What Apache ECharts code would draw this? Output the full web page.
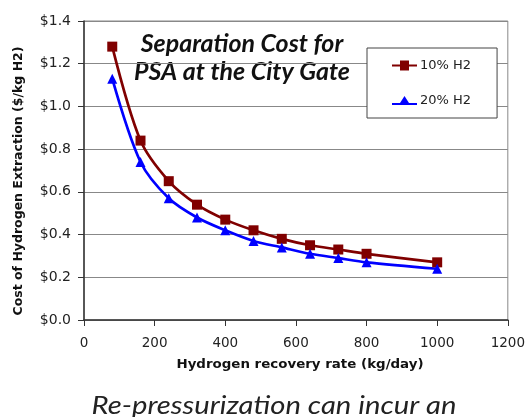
<!DOCTYPE html>
<html><head><meta charset="utf-8">
<script src="https://cdn.jsdelivr.net/npm/echarts@6/dist/echarts.min.js"></script>
<style>html,body{margin:0;padding:0;background:#fff}#c{width:528px;height:417px}</style>
</head><body><div id="c"></div>
<script>
const xValues = [80,160,240,320,400,480,560,640,720,800,1000];
const h2_10 = [1.28,0.84,0.65,0.54,0.47,0.42,0.38,0.35,0.33,0.31,0.27];
const h2_20 = [1.13,0.74,0.57,0.48,0.42,0.37,0.34,0.31,0.29,0.27,0.24];
const seriesNames = ['10% H2','20% H2'];
const titleLines = ['Separation Cost for','PSA at the City Gate'];
const xAxisTitle = 'Hydrogen recovery rate (kg/day)';
const yAxisTitle = 'Cost of Hydrogen Extraction ($/kg H2)';
const caption = 'Re-pressurization can incur an';

const chart = echarts.init(document.getElementById('c'));
const pair = (xs, ys) => xs.map((x,i)=>[x,ys[i]]);
const titleStyle = {font:'italic bold 24px Lato',fill:'#111',align:'center',verticalAlign:'middle',
  shadowColor:'rgba(230,150,30,0.6)',shadowBlur:2,shadowOffsetX:1,shadowOffsetY:1};
chart.setOption({
  animation:false,
  backgroundColor:'#fff',
  grid:{left:84,top:21,width:428,height:299,show:true,borderColor:'#888',borderWidth:1},
  xAxis:{type:'value',min:0,max:1200,interval:200,
    axisLine:{onZero:false,lineStyle:{color:'#333',width:1.5}},
    axisTick:{show:true,length:6,lineStyle:{color:'#333'}},
    axisLabel:{color:'#222',fontFamily:'DejaVu Sans',fontSize:13.5,margin:16,formatter:v=>String(v)},
    splitLine:{show:false}},
  yAxis:{type:'value',min:0,max:1.4,interval:0.2,
    axisLine:{show:true,lineStyle:{color:'#333',width:1.5}},
    axisTick:{show:true,length:6,lineStyle:{color:'#333'}},
    axisLabel:{color:'#222',fontFamily:'DejaVu Sans',fontSize:14,margin:13,
      formatter:v=>'$'+v.toFixed(1)},
    splitLine:{show:true,lineStyle:{color:'#888',width:1}}},
  legend:{show:true,orient:'vertical',left:367,top:48,
    padding:[10,26,10,25],itemGap:20,itemWidth:25,itemHeight:10,
    borderColor:'#444',borderWidth:1,backgroundColor:'#fff',
    textStyle:{fontFamily:'DejaVu Sans',fontSize:13,color:'#222',lineHeight:15,padding:[0,0,0,-2]},
    data:[{name:seriesNames[0],icon:'path://M0,4H8V0H17V4H25V6H17V10H8V6H0Z'},
          {name:seriesNames[1],icon:'path://M0,7H8L12.5,0L17,7H25V9H0Z'}]},
  series:[
    {name:seriesNames[0],type:'line',smooth:0.3,data:pair(xValues,h2_10),
     symbol:'rect',symbolSize:10,color:'#800000',lineStyle:{width:2.7,color:'#800000'},
     itemStyle:{color:'#800000'}},
    {name:seriesNames[1],type:'line',smooth:0.3,data:pair(xValues,h2_20),
     symbol:'triangle',symbolSize:10,color:'#0000ff',lineStyle:{width:2.7,color:'#0000ff'},
     itemStyle:{color:'#0000ff'}}
  ],
  graphic:[
    {type:'text',x:300,y:365,scaleX:1.03,style:{text:xAxisTitle,font:'bold 13px "DejaVu Sans"',fill:'#111',align:'center',verticalAlign:'middle'}},
    {type:'text',x:19,y:181,rotation:Math.PI/2,style:{text:yAxisTitle,font:'bold 12.5px "DejaVu Sans"',fill:'#111',align:'center',verticalAlign:'middle'}},
    {type:'text',x:242,y:44,scaleX:1.04,style:Object.assign({text:titleLines[0]},titleStyle)},
    {type:'text',x:242,y:72,scaleX:1.04,style:Object.assign({text:titleLines[1]},titleStyle)},
    {type:'text',x:274,y:406,scaleX:1.17,style:{text:caption,font:'italic 25px Lato',fill:'#222',align:'center',verticalAlign:'middle'}}
  ]
});
</script></body></html>
